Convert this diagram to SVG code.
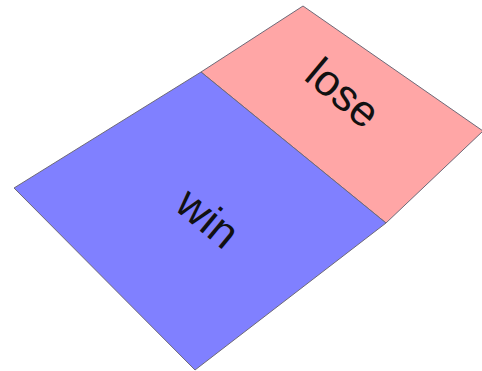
<svg xmlns="http://www.w3.org/2000/svg" width="482" height="371" viewBox="0 0 482 371">
<style>
.face{stroke:#6e6a78;stroke-width:1;stroke-linejoin:miter}
.lbl{font-family:"Liberation Sans",Arial,sans-serif;font-size:44px;fill:#111;text-anchor:middle}
</style>
<rect width="482" height="371" fill="#fff"/>
<g id="lose">
<polygon class="face" fill="#ffa6a6" points="303,6 483,131 386,223 201,72"/>
<text class="lbl" transform="translate(343,93) rotate(40)" y="15">lose</text>
</g>
<g id="win">
<polygon class="face" fill="#8080ff" points="201,72 386,223 195,370 14,188"/>
<text class="lbl" transform="translate(208,218) rotate(40)" y="15">win</text>
</g>
</svg>
